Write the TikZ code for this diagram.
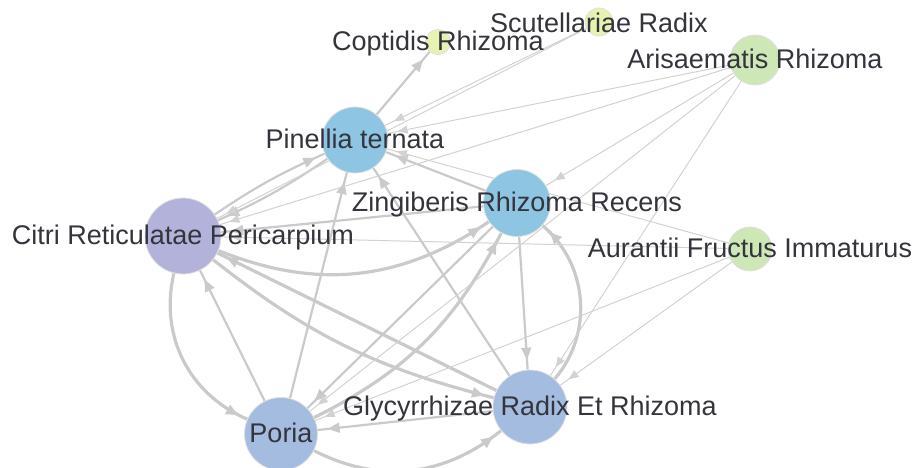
\documentclass[tikz,border=0pt]{standalone}
\usepackage{fontspec}
\setmainfont{Liberation Sans}
\usetikzlibrary{arrows.meta,decorations.markings,backgrounds}
\definecolor{citripurple}{RGB}{178,178,219}
\definecolor{herbblue}{RGB}{142,197,226}
\definecolor{rootblue}{RGB}{164,188,224}
\definecolor{paleyellow}{RGB}{230,242,176}
\definecolor{palegreen}{RGB}{205,232,182}
\definecolor{edgegray}{RGB}{202,202,202}
\definecolor{labelgray}{RGB}{52,52,60}

\begin{document}
\begin{tikzpicture}[x=1pt,y=1pt,
  herb/.style={circle, draw=black!12, line width=0.8pt, inner sep=0pt, minimum size=#1},
  herbname/.style={text=labelgray, font=\fontsize{27}{32}\selectfont, inner sep=0pt, anchor=base},
  bigtip/.style={postaction={decorate,decoration={markings,mark=at position -10pt with {\arrow{Triangle[length=12pt,width=10pt]}}}}},
  smalltip/.style={postaction={decorate,decoration={markings,mark=at position -10pt with {\arrow{Triangle[length=10pt,width=8pt]}}}}},
  thickedge/.style={draw=edgegray, line width=3.2pt, bigtip},
  midedge/.style={draw=edgegray, line width=2.2pt, bigtip},
  thinedge/.style={draw=edgegray!85, line width=1pt, smalltip}]

\useasboundingbox (0,0) rectangle (914,-468);

\node[herb=76pt, fill=citripurple] (cit) at (183,-236) {};
\node[herb=66pt, fill=herbblue] (pin) at (355,-140) {};
\node[herb=67pt, fill=herbblue] (zin) at (517,-203) {};
\node[herb=73pt, fill=rootblue] (por) at (281,-434) {};
\node[herb=74pt, fill=rootblue] (gly) at (530,-407) {};
\node[herb=25pt, fill=paleyellow] (cop) at (438,-42) {};
\node[herb=28pt, fill=paleyellow] (scu) at (599,-22) {};
\node[herb=50pt, fill=palegreen] (ari) at (755,-60) {};
\node[herb=44pt, fill=palegreen] (aur) at (750,-249) {};

\begin{scope}[on background layer]
\draw[midedge] (pin) -- (cop);
\draw[midedge] (cit) to[bend left=5] (pin);
\draw[midedge] (pin) to[bend left=5] (cit);
\draw[midedge] (zin) -- (cit);
\draw[midedge] (zin) -- (pin);
\draw[midedge] (por) -- (cit);
\draw[midedge] (por) -- (pin);
\draw[midedge] (gly) -- (pin);
\draw[midedge] (zin) -- (gly);
\draw[midedge] (gly) -- (por);
\draw[midedge] (zin) -- (por);
\draw[thickedge] (gly) -- (cit);
\draw[thickedge] (cit) to[bend right=28] (zin);
\draw[thickedge] (cit) to[bend right=40] (por);
\draw[thickedge] (por) to[bend right=33] (gly);
\draw[thickedge] (gly) to[bend right=45] (zin);
\draw[thickedge] (por) to[bend right=18] (zin);
\draw[thickedge] (cit) to[bend right=12] (gly);

\draw[thinedge] (scu) -- (pin);
\draw[thinedge] (scu) -- (cit);
\draw[thinedge] (ari) -- (pin);
\draw[thinedge] (ari) -- (cit);
\draw[thinedge] (ari) -- (zin);
\draw[thinedge] (ari) -- (por);
\draw[thinedge] (ari) -- (gly);
\draw[thinedge] (aur) -- (pin);
\draw[thinedge] (aur) -- (cit);
\draw[thinedge] (aur) -- (por);
\draw[thinedge] (aur) -- (gly);
\end{scope}

\node[herbname] (cit-name) at ([yshift=-8.5pt]cit.center) {Citri Reticulatae Pericarpium};
\node[herbname] (pin-name) at ([yshift=-8.5pt]pin.center) {Pinellia ternata};
\node[herbname] (zin-name) at ([yshift=-8.5pt]zin.center) {Zingiberis Rhizoma Recens};
\node[herbname] (por-name) at ([yshift=-8.5pt]por.center) {Poria};
\node[herbname] (gly-name) at ([yshift=-8.5pt]gly.center) {Glycyrrhizae Radix Et Rhizoma};
\node[herbname] (cop-name) at ([yshift=-8.5pt]cop.center) {Coptidis Rhizoma};
\node[herbname] (scu-name) at ([yshift=-10.5pt]scu.center) {Scutellariae Radix};
\node[herbname] (ari-name) at ([yshift=-8.5pt]ari.center) {Arisaematis Rhizoma};
\node[herbname] (aur-name) at ([yshift=-8.5pt]aur.center) {Aurantii Fructus Immaturus};

\end{tikzpicture}
\end{document}
